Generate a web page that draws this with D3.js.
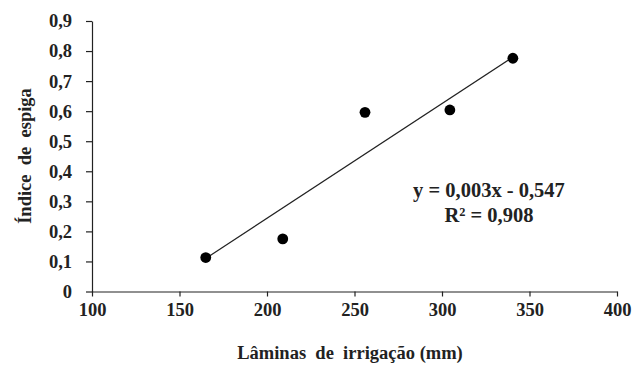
<!DOCTYPE html>
<html>
<head>
<meta charset="utf-8">
<script src="https://cdn.jsdelivr.net/npm/d3@7"></script>
<style>
  html, body { margin: 0; padding: 0; background: #fff; }
  svg { display: block; }
  svg text { font-family: "Liberation Serif", "Times New Roman", Times, serif; font-weight: bold; fill: #222; }
</style>
</head>
<body>
<svg id="chart" width="633" height="366"></svg>
<script>
// Irrigation depth (mm) vs. ear index
const laminas = [165, 209, 256, 304.5, 340.5];
const indice = [0.113, 0.175, 0.596, 0.604, 0.776];

// Fitted trend line, drawn across the observed range
const trendX = [165, 340];
const trendY = [0.11, 0.778];

const xTicks = [100, 150, 200, 250, 300, 350, 400];
const yTicks = [0, 0.1, 0.2, 0.3, 0.4, 0.5, 0.6, 0.7, 0.8, 0.9];

const equationLines = ["y = 0,003x - 0,547", "R² = 0,908"];
const xTitle = "Lâminas  de  irrigação (mm)";
const yTitle = "Índice  de  espiga";

const serif = '"Liberation Serif", "Times New Roman", Times, serif';

const svg = d3.select("#chart");
const fmt = d => d3.format(".1f")(d).replace(".", ",");

const x = d3.scaleLinear().domain([100, 400]).range([92, 617]);
const y = d3.scaleLinear().domain([0, 0.9]).range([291.5, 21]);

// X axis
const gx = svg.append("g").attr("transform", `translate(0,${y(0)})`)
  .call(d3.axisBottom(x).tickValues(xTicks).tickSize(5).tickPadding(6).tickSizeOuter(0));
// Y axis
const gy = svg.append("g").attr("transform", `translate(${x(100)},0)`)
  .call(d3.axisLeft(y).tickValues(yTicks).tickSize(6).tickPadding(14).tickSizeOuter(0)
    .tickFormat(d => d === 0 ? "0" : fmt(d)));

[gx, gy].forEach(g => {
  g.attr("font-family", serif);
  g.select(".domain").attr("stroke", "#222").attr("stroke-width", 1.2);
  g.selectAll(".tick line").attr("stroke", "#222").attr("stroke-width", 1.2);
  g.selectAll(".tick text").attr("font-size", 18.5).attr("fill", "#222")
    .attr("font-weight", "bold");
});

// Trend line
svg.append("line")
  .attr("x1", x(trendX[0])).attr("y1", y(trendY[0]))
  .attr("x2", x(trendX[1])).attr("y2", y(trendY[1]))
  .attr("stroke", "#222").attr("stroke-width", 1.2);

// Observations
svg.append("g").selectAll("circle")
  .data(laminas.map((v, i) => [v, indice[i]]))
  .join("circle")
  .attr("cx", d => x(d[0])).attr("cy", d => y(d[1]))
  .attr("r", 5.4).attr("fill", "#000");

// Regression equation
svg.append("text")
  .attr("x", 489).attr("y", 197)
  .attr("text-anchor", "middle").attr("font-size", 20.5)
  .selectAll("tspan").data(equationLines).join("tspan")
  .attr("x", 489).attr("dy", (d, i) => i === 0 ? 0 : 25)
  .text(d => d);

// Axis titles
svg.append("text")
  .attr("x", 350).attr("y", 359)
  .attr("text-anchor", "middle").attr("font-size", 18.5)
  .style("white-space", "pre")
  .text(xTitle);

svg.append("text")
  .attr("transform", "translate(31,156) rotate(-90)")
  .attr("text-anchor", "middle").attr("font-size", 18.5)
  .style("white-space", "pre")
  .text(yTitle);
</script>
</body>
</html>
